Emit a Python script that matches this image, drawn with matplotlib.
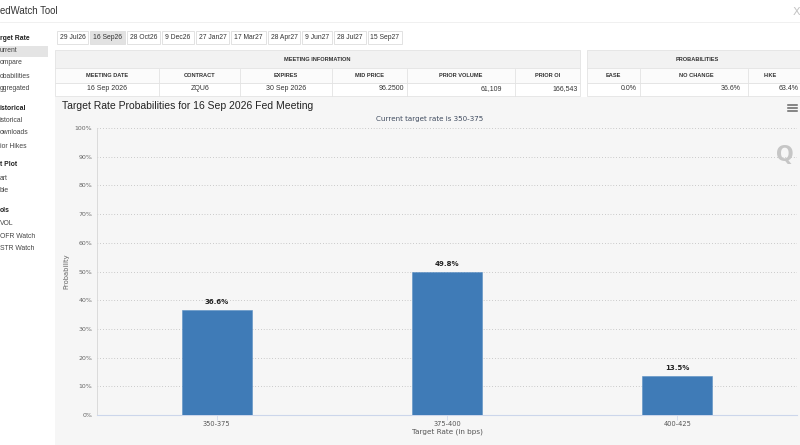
import matplotlib
matplotlib.use("Agg")
from matplotlib import pyplot as plt
from matplotlib.patches import Rectangle
from matplotlib.lines import Line2D

# chart data
categories = ["350-375", "375-400", "400-425"]
probs = [36.6, 49.8, 13.5]
yticks = [0, 10, 20, 30, 40, 50, 60, 70, 80, 90, 100]

# page texts (screenshot is cut at the left edge)
tab_labels = ["29 Jul26", "16 Sep26", "28 Oct26", "9 Dec26", "27 Jan27",
              "17 Mar27", "28 Apr27", "9 Jun27", "28 Jul27", "15 Sep27"]
selected_tab = "16 Sep26"
side_items = [("rget Rate", True), ("urrent", False), ("ompare", False),
              ("obabilities", False), ("ggregated", False),
              ("istorical", True), ("istorical", False), ("ownloads", False),
              ("ior Hikes", False), ("t Plot", True), ("art", False),
              ("ble", False), ("ols", True), ("VOL", False),
              ("OFR Watch", False), ("STR Watch", False)]
meeting_headers = ["MEETING DATE", "CONTRACT", "EXPIRES", "MID PRICE",
                   "PRIOR VOLUME", "PRIOR OI"]
meeting_values = ["16 Sep 2026", "ZQU6", "30 Sep 2026", "96.2500",
                  "61,109", "166,543"]
prob_headers = ["EASE", "NO CHANGE", "HIKE"]
prob_values = ["0.0%", "36.6%", "63.4%"]

W, H = 800, 445
UI = "Liberation Sans"
HC = "DejaVu Sans"
BAR = "#3f7bb7"
BG = "#f6f6f6"
LINE = "#e3e3e3"


def fx(x):
    return x / W


def fy(y):
    return 1 - y / H


fig = plt.figure(figsize=(W / 100, H / 100), dpi=100, facecolor="white")


def txt(x, y, s, **kw):
    kw.setdefault("va", "center")
    kw.setdefault("family", UI)
    fig.text(fx(x), fy(y), s, **kw)


def rect(x0, y0, x1, y1, fc, ec="none", lw=0.6, z=-2):
    fig.add_artist(Rectangle((fx(x0), fy(y1)), (x1 - x0) / W, (y1 - y0) / H,
                             transform=fig.transFigure, facecolor=fc,
                             edgecolor=ec, linewidth=lw, zorder=z))


def hline(x0, x1, y, c=LINE, lw=0.6, z=-1):
    fig.add_artist(Line2D([fx(x0), fx(x1)], [fy(y), fy(y)],
                          transform=fig.transFigure, color=c, lw=lw, zorder=z))


def vline(x, y0, y1, c=LINE, lw=0.6, z=-1):
    fig.add_artist(Line2D([fx(x), fx(x)], [fy(y0), fy(y1)],
                          transform=fig.transFigure, color=c, lw=lw, zorder=z))


# header
txt(0, 11, "edWatch Tool", fontsize=6.9, color="#333333")
txt(796, 12, "X", fontsize=8, color="#c4c4c4", ha="center", family=HC)
hline(0, 800, 22, c="#eeeeee")

# sidebar
side_y = [38, 51, 63, 76, 88, 108, 121, 133, 146, 165, 178, 191, 210, 223, 236, 249]
rect(0, 45.5, 48, 57, "#e4e4e4")
for (s, bold), y in zip(side_items, side_y):
    txt(0, y, s, fontsize=4.9, color="#222222" if bold else "#444444",
        weight="bold" if bold else "normal")

# tabs
tab_x = [(57, 88), (90, 125), (127, 160), (162, 194), (196, 229),
         (231, 266), (268, 300), (302, 332), (334, 366), (368, 402)]
for s, (x0, x1) in zip(tab_labels, tab_x):
    sel = s == selected_tab
    rect(x0, 31, x1, 44, "#e2e2e2" if sel else "white", ec="#dddddd", z=-1)
    txt((x0 + x1) / 2, 37.5, s, fontsize=4.9, ha="center", color="#333333")

# tables
m_cols = [55, 159, 240, 332, 407, 515, 580]
p_cols = [587, 640, 748, 808]
for cols, title in ((m_cols, "MEETING INFORMATION"), (p_cols, "PROBABILITIES")):
    rect(cols[0], 50, cols[-1], 68.5, "#f2f2f2", ec=LINE)
    rect(cols[0], 68.5, cols[-1], 83, "#fbfbfb", ec=LINE)
    rect(cols[0], 83, cols[-1], 96, "white", ec=LINE)
    for c in cols[1:-1]:
        vline(c, 68.5, 96)
    cx = (cols[0] + cols[-1]) / 2 if title.startswith("M") else 697
    txt(cx, 59.5, title, fontsize=4.1, weight="bold", ha="center", color="#333333")

for i, h in enumerate(meeting_headers):
    txt((m_cols[i] + m_cols[i + 1]) / 2, 75.5, h, fontsize=4.1, weight="bold",
        ha="center", color="#333333")
m_val_x = [(107, "center"), (200, "center"), (286, "center"),
           (404, "right"), (502, "right"), (578, "right")]
for s, (x, ha) in zip(meeting_values, m_val_x):
    txt(x, 89, s, fontsize=5.0, ha=ha, color="#333333")

for s, x in zip(prob_headers, [613, 696, 770]):
    txt(x, 75.5, s, fontsize=4.1, weight="bold", ha="center", color="#333333")
for s, x in zip(prob_values, [637, 741, 799]):
    txt(x, 89, s, fontsize=5.0, ha="right", color="#333333")

# chart container
rect(55, 97, 800, 445, BG)
txt(62, 106, "Target Rate Probabilities for 16 Sep 2026 Fed Meeting",
    fontsize=7.5, color="#222222")
for y in (104.5, 107.5, 110.5):
    hline(788, 797, y, c="#666666", lw=1.1, z=3)
txt(430, 119.5, "Current target rate is 350-375", fontsize=5.1,
    ha="center", color="#3e4a5e", family=HC)
txt(785, 155, "Q", fontsize=15, weight="bold", ha="center", color="#c6c6c6",
    family=HC)

ax = fig.add_axes([fx(97), fy(415), 700 / W, (415 - 128) / H])
ax.set_facecolor("none")
xs = list(range(len(categories)))
ax.bar(xs, probs, width=0.304, color=BAR, edgecolor="#5b8fc4", linewidth=0.4,
       zorder=3)
for x, p in zip(xs, probs):
    ax.annotate(f"{p}%", (x, p), xytext=(0, 6), textcoords="offset points",
                ha="center", va="center", fontsize=5.0, weight="bold",
                color="#222222", family=HC)

ax.set_xlim(-0.52, 2.52)
ax.set_ylim(0, 100)
ax.set_yticks(yticks)
ax.set_yticklabels([f"{t}%" for t in yticks], family=HC, fontsize=4.5,
                   color="#666666")
ax.set_xticks(xs)
ax.set_xticklabels(categories, family=HC, fontsize=4.8, color="#555555")
ax.tick_params(axis="y", length=0, pad=3.4)
ax.tick_params(axis="x", length=3.5, width=0.5, color="#ccd6eb", pad=1.0)
ax.grid(axis="y", linestyle=(0, (0.7, 2.2)), color="#b8b8b8", linewidth=0.7,
        zorder=0)
for side in ("top", "right"):
    ax.spines[side].set_visible(False)
ax.spines["left"].set_color("#d6d6d6")
ax.spines["left"].set_linewidth(0.6)
ax.spines["bottom"].set_color("#ccd6eb")
ax.spines["bottom"].set_linewidth(0.8)

ax.set_xlabel("Target Rate (in bps)", family=HC, fontsize=5.2,
              color="#555555", labelpad=1.0)
ax.set_ylabel("Probability", family=HC, fontsize=4.9, color="#666666")
ax.yaxis.set_label_coords(-0.039, 0.5)

fig.savefig("out.png", dpi=100, facecolor="white")
